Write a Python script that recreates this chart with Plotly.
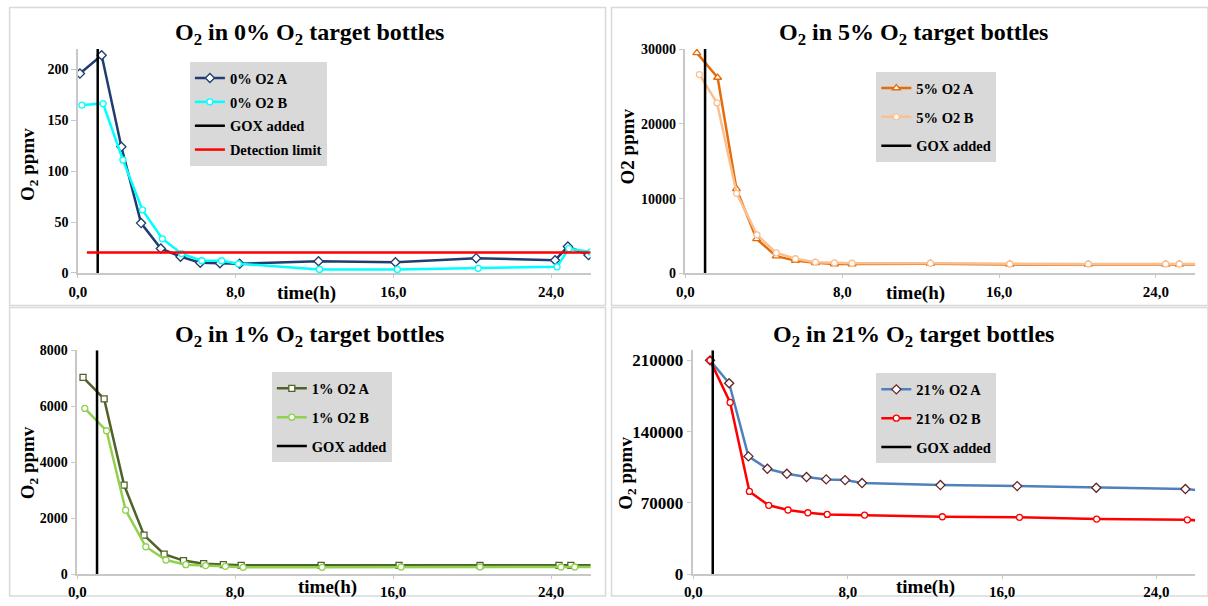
import plotly.graph_objects as go

W, H = 1208, 606
FONT = "Liberation Serif"
# The photographed page shows the figure with an 8px page margin and a slight
# rescale; positions below are given in reference-picture pixels and mapped.
OFF, SX, SY = 8, 0.9934, 0.974

# ---------------- data ----------------
gox_time = 1.0
detection_limit = 20

# 0% O2 target bottles
t0_a = [0.1, 1.2, 2.2, 3.2, 4.2, 5.2, 6.2, 7.2, 8.2, 12.2, 16.1, 20.2, 24.2, 24.85, 25.9]
y0_a = [196, 214, 124, 49, 24, 16, 10, 9.5, 9, 11.5, 10.5, 14.5, 12.5, 26, 17.5]
t0_b = [0.2, 1.27, 2.28, 3.27, 4.28, 5.26, 6.28, 7.29, 8.14, 12.25, 16.2, 20.3, 24.3, 24.9, 26.0]
y0_b = [165, 166.5, 111, 62, 33.5, 19, 12, 12, 9, 3.5, 3.5, 4.5, 6, 24, 20.5]
det_t = [0.45, 26.0]

# 5% O2 target bottles
t5_a = [0.58, 1.64, 2.6, 3.63, 4.63, 5.61, 6.63, 7.6, 8.5, 12.5, 16.55, 20.55, 24.5, 25.2, 26.6]
y5_a = [29500, 26200, 11300, 4600, 2300, 1700, 1400, 1250, 1250, 1300, 1200, 1200, 1200, 1200, 1200]
t5_b = [0.71, 1.61, 2.61, 3.65, 4.63, 5.61, 6.63, 7.6, 8.5, 12.5, 16.55, 20.55, 24.5, 25.2, 26.6]
y5_b = [26600, 22800, 10700, 5150, 2750, 1950, 1500, 1400, 1350, 1350, 1250, 1250, 1250, 1250, 1250]

# 1% O2 target bottles
t1_a = [0.29, 1.36, 2.37, 3.38, 4.4, 5.38, 6.4, 7.4, 8.3, 12.35, 16.3, 20.4, 24.4, 25.0, 26.6]
y1_a = [7030, 6260, 3180, 1390, 710, 480, 370, 335, 310, 310, 310, 310, 310, 310, 310]
t1_b = [0.38, 1.48, 2.45, 3.47, 4.49, 5.5, 6.5, 7.5, 8.4, 12.4, 16.4, 20.4, 24.5, 25.2, 26.6]
y1_b = [5920, 5120, 2280, 975, 500, 335, 300, 275, 240, 240, 250, 250, 250, 250, 250]

# 21% O2 target bottles
t21_a = [0.86, 1.85, 2.85, 3.83, 4.84, 5.86, 6.88, 7.86, 8.74, 12.8, 16.78, 20.88, 25.5, 26.6]
y21_a = [210000, 187500, 115600, 103400, 98500, 95300, 93000, 92300, 89400, 87400, 86400, 84800, 83500, 81500]
t21_b = [0.86, 1.9, 2.9, 3.9, 4.9, 5.93, 6.93, 8.87, 12.9, 16.9, 20.9, 25.6, 26.6]
y21_b = [210000, 168600, 81200, 67500, 62900, 60200, 58600, 57900, 56300, 55700, 54000, 53300, 52000]

x_tickvals = [0, 8, 16, 24]
x_ticktext = ["0,0", "8,0", "16,0", "24,0"]
y0_ticks = [0, 50, 100, 150, 200]
y5_ticks = [0, 10000, 20000, 30000]
y1_ticks = [0, 2000, 4000, 6000, 8000]
y21_ticks = [0, 70000, 140000, 210000]

titles = ["O<sub>2</sub> in 0% O<sub>2</sub> target bottles",
          "O<sub>2</sub> in 5% O<sub>2</sub> target bottles",
          "O<sub>2</sub> in 1% O<sub>2</sub> target bottles",
          "O<sub>2</sub> in 21% O<sub>2</sub> target bottles"]
ytitles = ["O<sub>2</sub> ppmv", "O2 ppmv", "O<sub>2</sub> ppmv", "O<sub>2</sub> ppmv"]

# ---------------- layout helpers (reference pixel -> paper fraction) ----------------
def px_x(p):
    return min(max((p / SX - OFF) / W, 0.0), 1.0)

def px_y(p):
    return min(max(1 - (p / SY - OFF) / H, 0.0), 1.0)

fig = go.Figure()

# panel geometry in reference pixels: (left, right, top, bottom)
panels = [
    (77, 590, 50, 274.3),
    (685, 1195, 50, 274.7),
    (76.3, 590, 351.7, 576),
    (693, 1195, 351.7, 576),
]
yranges = [[0, 220], [0, 30000], [0, 8000], [0, 220000]]
yticks = [y0_ticks, y5_ticks, y1_ticks, y21_ticks]
ytick_sizes = [14, 14, 14, 17]
xtick_standoff = [1, 1, 0, 0]

axis_color = "#C8C8C8"
xtickfont = dict(family=FONT, size=15, color="black", weight="bold")

for i, (l, r, t, b) in enumerate(panels):
    sfx = "" if i == 0 else str(i + 1)
    fig.layout["xaxis" + sfx] = dict(
        domain=[px_x(l), px_x(r)], anchor="y" + sfx, range=[0, 26],
        tickvals=x_tickvals, ticktext=x_ticktext, showgrid=False, zeroline=False,
        showline=True, linecolor=axis_color, linewidth=1.5, ticks="outside",
        ticklen=3, tickcolor=axis_color, tickfont=xtickfont,
        ticklabelstandoff=xtick_standoff[i], fixedrange=True)
    fig.layout["yaxis" + sfx] = dict(
        domain=[px_y(b), px_y(t)], anchor="x" + sfx, range=yranges[i],
        tickvals=yticks[i], ticktext=[str(v) for v in yticks[i]], showgrid=False,
        zeroline=False, showline=True, linecolor=axis_color, linewidth=1.5,
        ticks="outside", ticklen=5, tickcolor=axis_color,
        tickfont=dict(family=FONT, size=ytick_sizes[i], color="black", weight="bold"),
        ticklabelstandoff=0, fixedrange=True)

def series(x, y, name, xa, ya, legend, color, symbol, msize, mline=None, width=2.5):
    fig.add_trace(go.Scatter(
        x=x, y=y, name=name, mode="lines+markers", xaxis=xa, yaxis=ya,
        legend=legend, legendgroup=name + legend,
        line=dict(color=color, width=width),
        marker=dict(symbol=symbol, size=msize, color="white",
                    line=dict(color=mline or color, width=1.3)),
        cliponaxis=True))

def vline(name, xa, ya, legend, yr):
    fig.add_trace(go.Scatter(
        x=[gox_time, gox_time], y=yr, name=name, mode="lines", xaxis=xa, yaxis=ya,
        legend=legend, legendgroup=name + legend,
        line=dict(color="black", width=2.5)))

# panel 1
series(t0_a, y0_a, "0% O2 A", "x", "y", "legend", "#1F3D6E", "diamond", 7)
series(t0_b, y0_b, "0% O2 B", "x", "y", "legend", "#00FFFF", "circle", 6)
vline("GOX added", "x", "y", "legend", [0, 220])
fig.add_trace(go.Scatter(
    x=det_t, y=[detection_limit, detection_limit], name="Detection limit",
    mode="lines", xaxis="x", yaxis="y", legend="legend",
    legendgroup="det", line=dict(color="#FF0000", width=2.5)))

# panel 2
series(t5_a, y5_a, "5% O2 A", "x2", "y2", "legend2", "#E46C0A", "triangle-up", 7)
series(t5_b, y5_b, "5% O2 B", "x2", "y2", "legend2", "#FAC090", "circle", 6)
vline("GOX added", "x2", "y2", "legend2", [0, 30000])

# panel 3
series(t1_a, y1_a, "1% O2 A", "x3", "y3", "legend3", "#4F6228", "square", 6)
series(t1_b, y1_b, "1% O2 B", "x3", "y3", "legend3", "#92D050", "circle", 6)
vline("GOX added", "x3", "y3", "legend3", [0, 8000])

# panel 4
series(t21_a, y21_a, "21% O2 A", "x4", "y4", "legend4", "#4F81BD", "diamond", 7, mline="#632523")
series(t21_b, y21_b, "21% O2 B", "x4", "y4", "legend4", "#FF0000", "circle", 6)
vline("GOX added", "x4", "y4", "legend4", [0, 220000])

legfont = dict(family=FONT, size=14.5, color="black", weight="bold")
def legend_cfg(x, y, gap):
    return dict(x=px_x(x), y=px_y(y), xanchor="left", yanchor="top",
                bgcolor="#D9D9D9", borderwidth=0, font=legfont,
                tracegroupgap=gap, itemwidth=30, itemclick=False,
                itemdoubleclick=False)

fig.update_layout(
    legend=legend_cfg(189, 63, 2),
    legend2=legend_cfg(876, 73, 7),
    legend3=legend_cfg(271, 374, 7),
    legend4=legend_cfg(876, 375, 7),
)

# titles and axis titles
ann = []
title_pos = [(309, 35), (913, 35), (309, 337), (913, 337)]
for (x, y), txt in zip(title_pos, titles):
    ann.append(dict(x=px_x(x), y=px_y(y), xref="paper", yref="paper", text=txt,
                    showarrow=False, xanchor="center", yanchor="middle",
                    font=dict(family=FONT, size=24, color="black", weight="bold")))
ytitle_pos = [(28, 166), (627, 148), (28, 465), (627, 475)]
for (x, y), txt in zip(ytitle_pos, ytitles):
    ann.append(dict(x=px_x(x), y=px_y(y), xref="paper", yref="paper", text=txt,
                    showarrow=False, textangle=-90, xanchor="center", yanchor="middle",
                    font=dict(family=FONT, size=19, color="black", weight="bold")))
xtitle_pos = [(306, 294), (915, 294), (327, 589), (925, 589)]
for (x, y) in xtitle_pos:
    ann.append(dict(x=px_x(x), y=px_y(y), xref="paper", yref="paper", text="time(h)",
                    showarrow=False, xanchor="center", yanchor="middle",
                    font=dict(family=FONT, size=19, color="black", weight="bold")))

# panel frames
shapes = []
frames = [(7, 605, 7, 307), (611, 1220, 7, 307), (7, 605, 309, 640), (611, 1220, 309, 640)]
for (l, r, t, b) in frames:
    x0, x1 = max(px_x(l), 0.0005), px_x(r)
    y1 = min(px_y(t), 0.9992)
    shapes.append(dict(type="rect", xref="paper", yref="paper",
                       x0=x0, x1=x1, y0=px_y(b), y1=y1,
                       line=dict(color="#D9D9D9", width=1.5), layer="below"))

fig.update_layout(
    width=W, height=H, margin=dict(l=0, r=0, t=0, b=0),
    paper_bgcolor="white", plot_bgcolor="white",
    font=dict(family=FONT, color="black"),
    annotations=ann, shapes=shapes, showlegend=True,
)

fig.write_html("out.html")
